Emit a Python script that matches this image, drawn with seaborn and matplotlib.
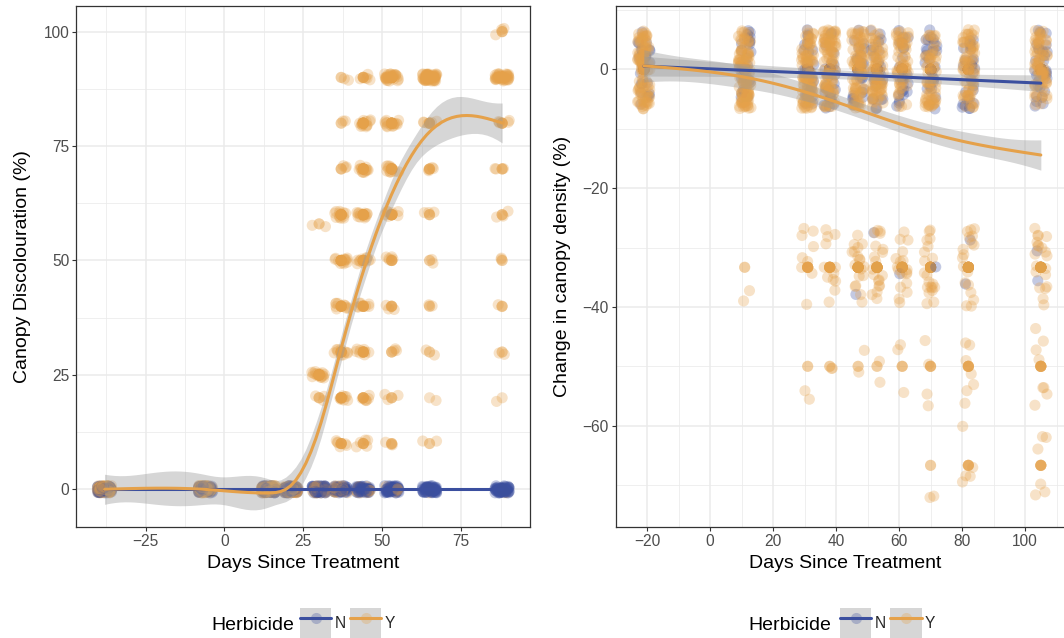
import numpy as np
import pandas as pd
import matplotlib
matplotlib.use("Agg")
import matplotlib.pyplot as plt
import seaborn as sns
from matplotlib.patches import Rectangle
from matplotlib.lines import Line2D
from matplotlib.legend_handler import HandlerTuple

# ---------------------------------------------------------------- data
GROUPS = ["N", "Y"]
COLOURS = {"N": "#3B4F9F", "Y": "#E5A14A"}

# Canopy discolouration: scores recorded at each visit (days since treatment)
LEFT_DAYS = [-38, -6, 14, 21, 30, 37, 44, 53, 65, 88]
LEFT_LEVELS = [0, 10, 20, 25, 30, 40, 50, 58, 60, 70, 80, 90, 100]
# number of treated trees (Herbicide = Y) at each score, one row per visit
LEFT_Y_COUNTS = [
    [110, 0, 0, 0, 0, 0, 0, 0, 0, 0, 0, 0, 0],
    [110, 0, 0, 0, 0, 0, 0, 0, 0, 0, 0, 0, 0],
    [100, 0, 0, 0, 0, 0, 0, 0, 0, 0, 0, 0, 0],
    [100, 0, 0, 0, 0, 0, 0, 0, 0, 0, 0, 0, 0],
    [32, 0, 3, 16, 0, 0, 0, 2, 0, 0, 0, 0, 0],
    [22, 6, 8, 0, 10, 10, 12, 0, 12, 3, 2, 2, 0],
    [10, 5, 6, 0, 8, 8, 10, 0, 12, 12, 12, 5, 0],
    [6, 3, 3, 0, 3, 4, 5, 0, 10, 12, 14, 28, 0],
    [1, 2, 1, 0, 2, 2, 2, 0, 3, 4, 5, 50, 0],
    [1, 0, 1, 0, 2, 2, 2, 0, 3, 3, 5, 40, 3],
]
# untreated trees (Herbicide = N) all scored 0
LEFT_N_ZERO = [60, 60, 60, 60, 60, 60, 60, 60, 60, 60]

# Change in canopy density
RIGHT_DAYS = [-21, 11, 31, 38, 47, 53, 61, 70, 82, 105]
RIGHT_LEVELS = [0, -33.33, -50, -66.67]
RIGHT_Y_COUNTS = [
    [100, 0, 0, 0],
    [110, 2, 0, 0],
    [100, 9, 2, 0],
    [90, 12, 2, 0],
    [83, 18, 2, 0],
    [74, 20, 2, 0],
    [56, 18, 3, 0],
    [61, 20, 4, 2],
    [70, 18, 7, 5],
    [72, 20, 8, 6],
]
RIGHT_N_COUNTS = [
    [24, 0, 0, 0],
    [24, 0, 0, 0],
    [24, 0, 0, 0],
    [24, 0, 0, 0],
    [24, 1, 0, 0],
    [24, 1, 0, 0],
    [24, 1, 0, 0],
    [24, 1, 0, 0],
    [26, 2, 0, 0],
    [28, 2, 0, 0],
]


def expand(days, levels, counts, group):
    rows = []
    for d, row in zip(days, counts):
        for v, c in zip(levels, row):
            rows += [(d, v, group)] * c
    return pd.DataFrame(rows, columns=["day", "value", "Herbicide"])


left_df = pd.concat([
    expand(LEFT_DAYS, [0], [[c] for c in LEFT_N_ZERO], "N"),
    expand(LEFT_DAYS, LEFT_LEVELS, LEFT_Y_COUNTS, "Y"),
], ignore_index=True)
right_df = pd.concat([
    expand(RIGHT_DAYS, RIGHT_LEVELS, RIGHT_N_COUNTS, "N"),
    expand(RIGHT_DAYS, RIGHT_LEVELS, RIGHT_Y_COUNTS, "Y"),
], ignore_index=True)


# ---------------------------------------------------------------- smoother
# penalised natural cubic regression spline with knots at the unique x
# values, smoothing parameter by GCV, Bayesian standard errors
def ncs_g(knots):
    K = len(knots)
    h = np.diff(knots)
    A = np.zeros((K - 2, K - 2))
    R = np.zeros((K - 2, K))
    for i in range(1, K - 1):
        r = i - 1
        if r - 1 >= 0:
            A[r, r - 1] = h[i - 1]
        A[r, r] = 2 * (h[i - 1] + h[i])
        if r + 1 < K - 2:
            A[r, r + 1] = h[i]
        R[r, i - 1] = 6 / h[i - 1]
        R[r, i] = -6 / h[i - 1] - 6 / h[i]
        R[r, i + 1] = 6 / h[i]
    G = np.zeros((K, K))
    G[1:-1] = np.linalg.solve(A, R)
    H = np.zeros((K, K))
    for i in range(K - 1):
        H[i, i] += h[i] / 3
        H[i + 1, i + 1] += h[i] / 3
        H[i, i + 1] += h[i] / 6
        H[i + 1, i] += h[i] / 6
    return G, G.T @ H @ G


def ncs_eval(knots, G, x):
    K = len(knots)
    h = np.diff(knots)
    idx = np.clip(np.searchsorted(knots, x, side="right") - 1, 0, K - 2)
    k0, k1, hh = knots[idx], knots[idx + 1], h[idx]
    a, b = k1 - x, x - k0
    B = np.zeros((len(x), K))
    rows = np.arange(len(x))
    B[rows, idx] += a / hh
    B[rows, idx + 1] += b / hh
    ci = a ** 3 / (6 * hh) - hh * a / 6
    cj = b ** 3 / (6 * hh) - hh * b / 6
    B += ci[:, None] * G[idx] + cj[:, None] * G[idx + 1]
    return B


def smooth(x, y, lam=None, npts=80):
    x = np.asarray(x, float)
    y = np.asarray(y, float)
    knots = np.unique(x)
    G, S = ncs_g(knots)
    X = ncs_eval(knots, G, x)
    XtX, Xty = X.T @ X, X.T @ y
    n = len(y)
    scale = np.trace(XtX) / np.trace(S)

    def solve(l):
        Ainv = np.linalg.inv(XtX + l * S)
        beta = Ainv @ Xty
        edf = np.trace(Ainv @ XtX)
        rss = float(np.sum((y - X @ beta) ** 2))
        return beta, Ainv, edf, rss

    if lam is None:
        cands = np.logspace(-8, 4, 121) * scale
        scores = []
        for l in cands:
            _, _, edf, rss = solve(l)
            scores.append(n * rss / (n - edf) ** 2)
        lam = cands[int(np.argmin(scores))]
    else:
        lam = lam * scale
    beta, Ainv, edf, rss = solve(lam)
    sigma2 = rss / (n - edf)
    grid = np.linspace(x.min(), x.max(), npts)
    Bg = ncs_eval(knots, G, grid)
    fit = Bg @ beta
    se = np.sqrt(np.maximum(sigma2 * np.einsum("ij,jk,ik->i", Bg, Ainv, Bg), 0))
    return pd.DataFrame({"day": grid, "fit": fit, "lo": fit - 1.96 * se, "hi": fit + 1.96 * se})


# ---------------------------------------------------------------- style
sns.set_style("white")
plt.rcParams["font.family"] = ["Liberation Sans", "DejaVu Sans"]

W, H = 1064, 638
fig = plt.figure(figsize=(W / 100, H / 100), dpi=100)
fig.patch.set_facecolor("white")

ax1 = fig.add_axes([76.4 / W, 1 - 527.3 / H, (529.6 - 76.4) / W, (527.3 - 6) / H])
ax2 = fig.add_axes([615.5 / W, 1 - 527.3 / H, (1073.9 - 615.5) / W, (527.3 - 6) / H])

rng = np.random.default_rng(11)
PT = 64


def draw_panel(ax, df, jw, jh, mix_order):
    pal = [COLOURS[g] for g in GROUPS]
    # raw observations
    sns.scatterplot(data=df, x="day", y="value", hue="Herbicide", hue_order=GROUPS,
                    palette=pal, alpha=0.3, s=PT, linewidth=0, legend=False, ax=ax)
    # jittered copy
    jd = df.copy()
    jd["day"] = jd["day"] + rng.uniform(-jw, jw, len(jd))
    jd["value"] = jd["value"] + rng.uniform(-jh, jh, len(jd))
    if mix_order:
        jd = jd.iloc[rng.permutation(len(jd))]
    sns.scatterplot(data=jd, x="day", y="value", hue="Herbicide", hue_order=GROUPS,
                    palette=pal, alpha=0.3, s=PT, linewidth=0, legend=False, ax=ax)
    # smooths with confidence bands
    for g in GROUPS:
        sub = df[df["Herbicide"] == g]
        sm = smooth(sub["day"], sub["value"])
        ax.fill_between(sm["day"], sm["lo"], sm["hi"], color="#999999", alpha=0.4,
                        linewidth=0, zorder=3)
        sns.lineplot(data=sm, x="day", y="fit", color=COLOURS[g], linewidth=2.2,
                     ax=ax, zorder=4)


draw_panel(ax1, left_df, 2.3, 0.8, True)
draw_panel(ax2, right_df, 2.0, 6.67, False)


def style_axes(ax, xlim, ylim, xmaj, xmin, ymaj, ymin, ylabel, ylabelpad):
    ax.set_xlim(*xlim)
    ax.set_ylim(*ylim)
    ax.set_xticks(xmaj)
    ax.set_xticks(xmin, minor=True)
    ax.set_yticks(ymaj)
    ax.set_yticks(ymin, minor=True)
    ax.set_axisbelow(True)
    ax.grid(which="major", color="#EBEBEB", linewidth=1.1)
    ax.grid(which="minor", color="#EBEBEB", linewidth=0.55)
    ax.tick_params(which="major", direction="out", length=2.9, width=0.8,
                   color="#333333", labelcolor="#4D4D4D", labelsize=11.2, pad=2.2,
                   bottom=True, left=True)
    ax.tick_params(which="minor", length=0)
    for sp in ax.spines.values():
        sp.set_color("#333333")
        sp.set_linewidth(0.9)
        sp.set_visible(True)
    ax.set_xlabel("Days Since Treatment", fontsize=14, color="black", labelpad=4)
    ax.set_ylabel(ylabel, fontsize=14, color="black", labelpad=ylabelpad)


style_axes(ax1, (-46.9, 96.7), (-8.3, 105.6),
           [-25, 0, 25, 50, 75], [-37.5, -12.5, 12.5, 37.5, 62.5, 87.5],
           [0, 25, 50, 75, 100], [12.5, 37.5, 62.5, 87.5],
           "Canopy Discolouration (%)", 9)
style_axes(ax2, (-29.9, 115.5), (-77.1, 10.66),
           [-20, 0, 20, 40, 60, 80, 100], [-30, -10, 10, 30, 50, 70, 90, 110],
           [-60, -40, -20, 0], [-70, -50, -30, -10, 10],
           "Change in canopy density (%)", 8)


# ---------------------------------------------------------------- legends
def handles():
    hs = []
    for g in GROUPS:
        bg = Rectangle((0, 0), 1, 1, facecolor="#999999", alpha=0.4, edgecolor="none")
        pt = Line2D([], [], linestyle="none", marker="o", markersize=8.0,
                    markerfacecolor=COLOURS[g], markeredgewidth=0, alpha=0.3)
        ln = Line2D([], [], color=COLOURS[g], linewidth=2.2)
        hs.append((bg, pt, ln))
    return hs


for title_x, key_x in [(211.7, 300.0), (747.9, 840.1)]:
    fig.text(title_x / W, 1 - 630 / H, "Herbicide", fontsize=14, color="black",
             ha="left", va="baseline")
    fig.legend(handles(), GROUPS, handler_map={tuple: HandlerTuple(ndivide=1, pad=0)},
               loc="center left", bbox_to_anchor=(key_x / W, 1 - 623.5 / H),
               ncol=2, frameon=False, fontsize=11.2, handlelength=2.0, handleheight=2.7,
               handletextpad=0.22, columnspacing=0.3, borderpad=0, borderaxespad=0)

fig.savefig("out.png", dpi=100, facecolor="white")
